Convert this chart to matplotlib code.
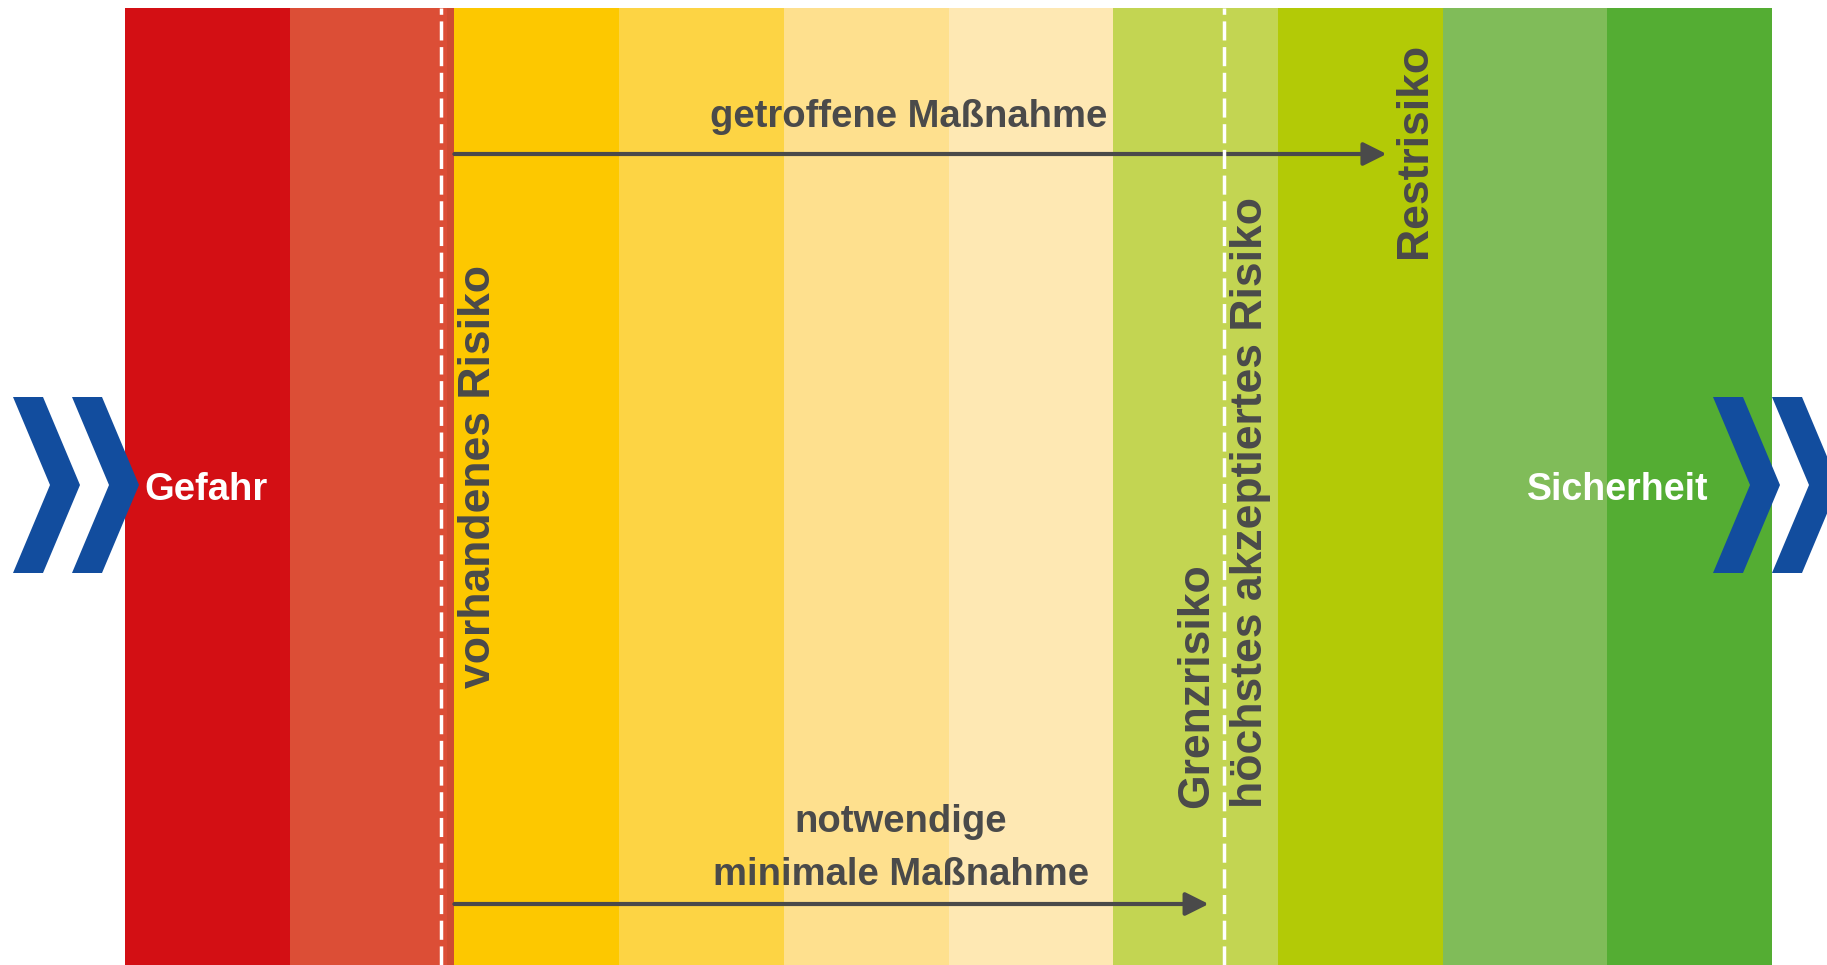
import matplotlib
matplotlib.use("Agg")
import matplotlib.pyplot as plt
from matplotlib.patches import Polygon, FancyArrowPatch

plt.rcParams['font.family'] = ['Liberation Sans', 'DejaVu Sans']

# risk scale: ten colour steps from danger (left) to safety (right)
stufen = list(range(10))
farben = ['#D30F14', '#DC4E36', '#FDC800', '#FDD444', '#FEE08E',
          '#FEE8B3', '#C3D552', '#B3CA06', '#80BC59', '#54AD33']

# positions on the scale (in band units)
vorhandenes_risiko = 1.92      # dashed line, existing risk
grenzrisiko = 6.67             # dashed line, highest accepted risk
massnahme_start = 2.0
restrisiko = 7.66              # end of the measure actually taken
minimal_ende = 6.58            # end of the minimal necessary measure

titel_links = 'Gefahr'
titel_rechts = 'Sicherheit'
pfeil_oben = 'getroffene Maßnahme'
pfeil_unten = ['notwendige', 'minimale Maßnahme']

# pixel layout helpers (figure 1827 x 965)
X0, BW = 125, 164.7
def bx(px):
    return (px - X0) / BW

def by(py):
    return (965 - py) / 957

fig = plt.figure(figsize=(18.27, 9.65), dpi=100)
ax = fig.add_axes([0, 0, 1, 1])
ax.set_xlim(bx(0), bx(1827))
ax.set_ylim(0, by(0))
ax.axis('off')

ax.bar(stufen, 1, width=1, align='edge', color=farben, linewidth=0)
# slight shadow next to the first dashed line
ax.axvspan(bx(447), massnahme_start, ymax=1 / by(0), color='#CF4B32', lw=0)

for xv in (vorhandenes_risiko, grenzrisiko):
    ax.vlines(xv, 0, 1, colors='white', linewidth=2.5,
              linestyles=(0, (5.5, 1.9)))

dunkel = '#4A4A4A'

def pfeil(x_end, y_px):
    a = FancyArrowPatch((massnahme_start, by(y_px)), (x_end, by(y_px)),
                        arrowstyle='-|>,head_length=1.4,head_width=0.7',
                        mutation_scale=10, lw=3, color=dunkel,
                        shrinkA=0, shrinkB=0)
    ax.add_patch(a)

pfeil(restrisiko, 154)
pfeil(minimal_ende, 904)

ax.text(bx(909), by(127), pfeil_oben, ha='center', va='baseline',
        fontsize=27.5, fontweight='bold', color=dunkel)
ax.text(bx(901), by(832), pfeil_unten[0], ha='center', va='baseline',
        fontsize=27.5, fontweight='bold', color=dunkel)
ax.text(bx(901), by(885), pfeil_unten[1], ha='center', va='baseline',
        fontsize=27.5, fontweight='bold', color=dunkel)

def senkrecht(txt, x_px, y_px):
    ax.text(bx(x_px), by(y_px), txt, rotation=90, rotation_mode='anchor',
            ha='center', va='baseline', fontsize=32, fontweight='bold',
            color=dunkel)

senkrecht('vorhandenes Risiko', 490, 477)
senkrecht('Restrisiko', 1426, 150)
senkrecht('Grenzrisiko', 1208, 686)
senkrecht('höchstes akzeptiertes Risiko', 1262, 503)

ax.text(bx(144), by(500), titel_links, ha='left', va='baseline',
        fontsize=27.5, fontweight='bold', color='white')
ax.text(bx(1527), by(500), titel_rechts, ha='left', va='baseline',
        fontsize=27, fontweight='bold', color='white')

# blue double chevrons at both ends
def chevron(x_px):
    pts = [(x_px, 397), (x_px + 30, 397), (x_px + 67, 485),
           (x_px + 30, 573), (x_px, 573), (x_px + 37, 485)]
    ax.add_patch(Polygon([(bx(p), by(q)) for p, q in pts], closed=True,
                         color='#124D9E', lw=0, zorder=5))

for xc in (13, 72, 1713, 1772):
    chevron(xc)

fig.savefig('out.png', dpi=100, facecolor='white')
